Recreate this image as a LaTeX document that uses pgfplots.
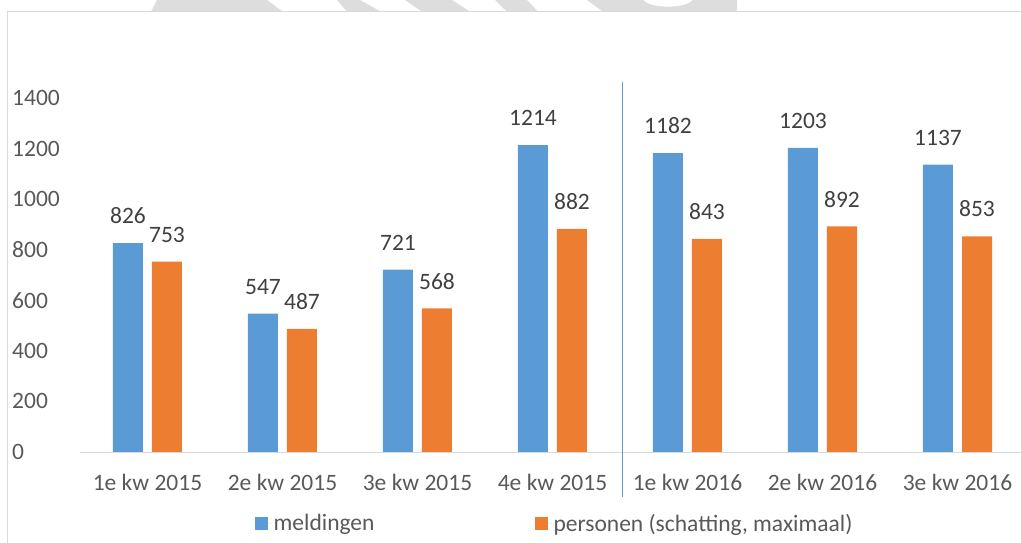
\documentclass[border=0pt]{standalone}
\usepackage{pgfplots}
\pgfplotsset{compat=1.18}
\usepackage{fontspec}
\setmainfont{Carlito}
\definecolor{cblue}{HTML}{5B9BD5}
\definecolor{corange}{HTML}{ED7D31}
\definecolor{ctext}{HTML}{595959}
\definecolor{clabel}{HTML}{404040}
\definecolor{cgrid}{HTML}{D9D9D9}
\definecolor{cwm}{HTML}{DDDDDD}
\begin{document}
\begin{tikzpicture}[x=1pt,y=1pt]
% watermark fragments above the frame
\fill[cwm] (77,452) -- (187,452) -- (203,440.3) -- (71,440.3) -- cycle;
\fill[cwm] (257,452) -- (280,452) -- (301,440.3) -- (267,440.3) -- cycle;
\fill[cwm] (325,452) -- (372,452) -- (390,440.3) -- (342,440.3) -- cycle;
\fill[cwm] (415,452) -- (447,452) -- (458,440.3) -- (427,440.3) -- cycle;
\fill[cwm] (507,452) -- (657,452) -- (657,440.3) -- (523,440.3) -- cycle;
\fill[white] (563,452.5) .. controls (570,443) and (606,443) .. (613,452.5) -- cycle;
% frame
\draw[cgrid, line width=1pt] (-72,-200) -- (-72,440.3) -- (1100,440.3);
\begin{axis}[
  at={(0,0)}, anchor=south west,
  scale only axis, width=941pt, height=370pt,
  xmin=-0.5, xmax=6.4704, ymin=0, ymax=1463.3,
  ybar=9pt, bar width=30pt,
  xtick={0,...,6},
  xticklabels={1e kw 2015,2e kw 2015,3e kw 2015,4e kw 2015,1e kw 2016,2e kw 2016,3e kw 2016},
  ytick={0,200,...,1400},
  axis line style={draw=none},
  major tick length=0pt,
  tick label style={font=\fontsize{23.5}{28}\selectfont, text=ctext},
  /pgf/number format/assume math mode=true,
  /pgf/number format/1000 sep={},
  yticklabel style={anchor=west, inner sep=0pt, xshift=-68pt},
  xticklabel style={anchor=base, inner sep=0pt, yshift=-38pt},
  nodes near coords,
  every node near coord/.append style={font=\fontsize{23.5}{28}\selectfont, text=clabel, inner sep=0pt, yshift=19pt, /pgf/number format/assume math mode=true, /pgf/number format/1000 sep={}},
  clip=false,
  legend columns=2,
  legend cell align=left,
  legend image code/.code={\path (0pt,0pt) -- (17pt,0pt); \fill[#1] (0pt,-6.5pt) rectangle (13pt,6.5pt);},
  legend style={draw=none, fill=none, font=\fontsize{23.5}{28}\selectfont, text=ctext,
    at={(0.5043,-0.193)}, anchor=center,
    /tikz/every even column/.append style={column sep=158pt}},
]
\addplot[fill=cblue, draw=none] coordinates {(0,826) (1,547) (2,721) (3,1214) (4,1182) (5,1203) (6,1137)};
\addplot[fill=corange, draw=none] coordinates {(0,753) (1,487) (2,568) (3,882) (4,843) (5,892) (6,853)};
\legend{meldingen, {personen (schatting, maximaal)}}
\draw[cgrid, line width=1pt] (axis cs:-0.5,0) -- (axis cs:6.4704,0);
\draw[cblue, line width=1pt] (axis cs:3.52,-178) -- (axis cs:3.52,1463.3);
\end{axis}
\pgfresetboundingbox
\useasboundingbox (-80,-90) rectangle (941,452);
\end{tikzpicture}
\end{document}
